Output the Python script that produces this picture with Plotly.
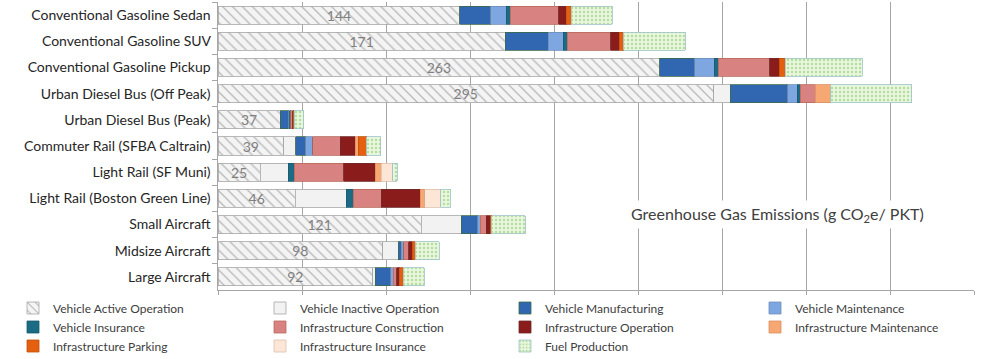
import plotly.graph_objects as go

categories = ["Conventional Gasoline Sedan", "Conventional Gasoline SUV", "Conventional Gasoline Pickup",
              "Urban Diesel Bus (Off Peak)", "Urban Diesel Bus (Peak)", "Commuter Rail (SFBA Caltrain)",
              "Light Rail (SF Muni)", "Light Rail (Boston Green Line)", "Small Aircraft",
              "Midsize Aircraft", "Large Aircraft"]

active_operation = [144, 171, 263, 295, 37, 39, 25, 46, 121, 98, 92]
inactive_operation = [0, 0, 0, 10, 0, 7.3, 16.9, 30.4, 23.8, 9.3, 1.6]
vehicle_manufacturing = [18.2, 25.5, 20.8, 34, 5, 6, 0, 0, 9.8, 1.8, 9.3]
vehicle_maintenance = [9.5, 9.1, 11.6, 5.7, 0.6, 4, 0, 0, 1.6, 1.4, 1.4]
vehicle_insurance = [2.3, 2.3, 2.3, 1.8, 0.6, 0, 3.6, 4, 0, 0, 0]
infra_construction = [28.9, 26, 30.8, 8.9, 1.2, 16.5, 29.2, 16.9, 3.4, 3, 2]
infra_operation = [4.8, 4.8, 5.7, 0, 0.6, 8.9, 18.8, 23.2, 2.5, 2, 2]
infra_maintenance = [0, 0, 0, 9.3, 0, 1.8, 3.6, 2.6, 0, 0, 0]
infra_parking = [2.7, 2.7, 3.4, 0, 0.4, 5, 0, 0, 0.8, 2, 2]
infra_insurance = [0, 0, 0, 0, 0, 0, 6.9, 9.5, 0, 0, 0]
fuel_production = [24.4, 36.7, 46, 48.3, 5.5, 8.5, 2.6, 5.8, 20, 14.3, 12.5]

# (name, values, fill, outline, legend column)
series = [
    ("Vehicle Active Operation", active_operation, "#f3f3f3", "#a6a6a6", "legend"),
    ("Vehicle Inactive Operation", inactive_operation, "#f2f2f2", "#a6a6a6", "legend2"),
    ("Vehicle Manufacturing", vehicle_manufacturing, "#3166b0", "#3d6b4a", "legend3"),
    ("Vehicle Maintenance", vehicle_maintenance, "#7ea7e2", "#6f8fb8", "legend4"),
    ("Vehicle Insurance", vehicle_insurance, "#1b6b84", "#1b5b70", "legend"),
    ("Infrastructure Construction", infra_construction, "#d98282", "#b86a5a", "legend2"),
    ("Infrastructure Operation", infra_operation, "#8a1c1c", "#6e2a2a", "legend3"),
    ("Infrastructure Maintenance", infra_maintenance, "#f7a872", "#d99060", "legend4"),
    ("Infrastructure Parking", infra_parking, "#e4600f", "#c0500c", "legend"),
    ("Infrastructure Insurance", infra_insurance, "#fde6d5", "#d9c2b0", "legend2"),
    ("Fuel Production", fuel_production, "#e8f6dc", "#9cc3c9", "legend3"),
]

fig = go.Figure()
for i, (name, vals, color, lcolor, leg) in enumerate(series):
    kw = {}
    marker = dict(color=color, line=dict(color=lcolor, width=0.8))
    if i == 0:
        marker["pattern"] = dict(shape="\\", bgcolor="#f4f4f4", fgcolor="#b8b8b8",
                                 size=7, solidity=0.18, fillmode="replace")
        kw = dict(text=[str(v) for v in vals], textposition="inside",
                  insidetextanchor="middle", textangle=0, constraintext="none",
                  textfont=dict(family="Lato", size=14, color="#808080"))
    elif name == "Fuel Production":
        marker["pattern"] = dict(shape=".", bgcolor="#eaf7df", fgcolor="#b5dd9c",
                                 size=4, solidity=0.3, fillmode="replace")
    fig.add_trace(go.Bar(name=name, y=categories, x=vals, orientation="h",
                         marker=marker, hoverinfo="x+name", legend=leg, **kw))

leg_font = dict(family="Lato", size=12, color="#404040")
leg_y = (290 - 293.5) / 288
leg_common = dict(orientation="v", yanchor="top", y=leg_y, xanchor="left",
                  font=leg_font, tracegroupgap=0, itemwidth=30,
                  bgcolor="rgba(0,0,0,0)", traceorder="normal")
col_x = [13, 260, 505, 755]

fig.update_layout(
    barmode="stack",
    bargap=0.31,
    width=1000, height=359,
    margin=dict(l=218, r=26, t=2, b=69, autoexpand=False),
    paper_bgcolor="white", plot_bgcolor="white",
    font=dict(family="Lato", color="#262626"),
    legend=dict(x=(col_x[0] - 218) / 756, **leg_common),
    legend2=dict(x=(col_x[1] - 218) / 756, **leg_common),
    legend3=dict(x=(col_x[2] - 218) / 756, **leg_common),
    legend4=dict(x=(col_x[3] - 218) / 756, **leg_common),
    showlegend=True,
)
fig.update_xaxes(range=[0, 450], dtick=50, showticklabels=False, showgrid=True,
                 gridcolor="#a6a6a6", gridwidth=1, zeroline=False,
                 showline=True, linecolor="#a6a6a6", ticks="outside", ticklen=4,
                 tickcolor="#a6a6a6")
fig.update_yaxes(autorange="reversed", showgrid=False, showline=True, linecolor="#a6a6a6",
                 ticks="outside", tickson="boundaries", ticklen=5, tickcolor="#a6a6a6",
                 tickfont=dict(family="Lato", size=14, color="#262626"), ticksuffix=" ")

fig.add_annotation(x=333, xref="x", y=(290 - 214) / 288, yref="paper",
                   xanchor="center", yanchor="middle",
                   text="Greenhouse Gas Emissions (g CO<sub>2</sub>e/ PKT)",
                   showarrow=False, bgcolor="white",
                   font=dict(family="Lato", size=16, color="#404040"), borderpad=3)

fig.write_html("out.html", config={"displayModeBar": False},
               post_script="document.body.style.margin='0';")
